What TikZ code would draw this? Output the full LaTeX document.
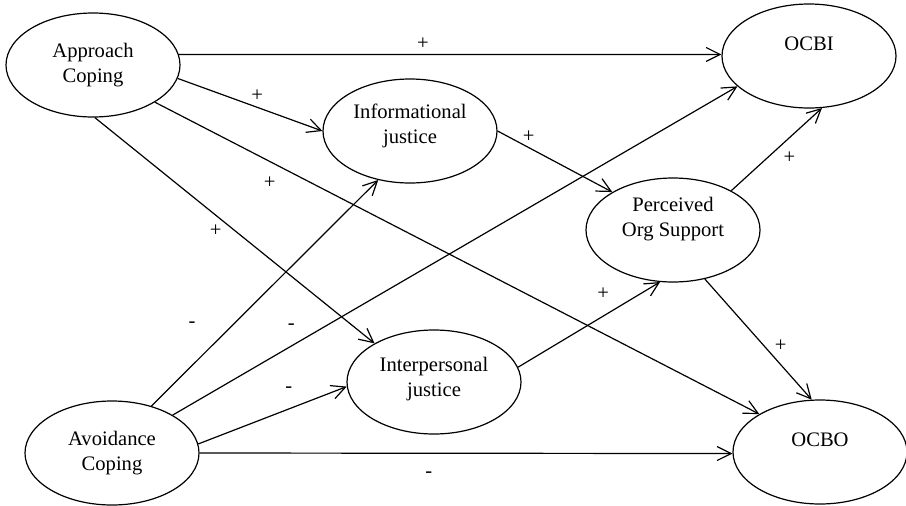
\documentclass[tikz,border=0pt]{standalone}
\usepackage{fontspec}
\setmainfont{Liberation Serif}
\usetikzlibrary{shapes.geometric, arrows.meta}

\begin{document}
\begin{tikzpicture}[
    x=0.5pt, y=-0.5pt,
    construct/.style={ellipse, draw=black, line width=0.6pt, minimum width=87pt, minimum height=52pt, inner sep=0pt, align=center, font=\fontsize{10.3}{12.5}\selectfont},
    link/.style={-{Straight Barb[length=7pt, width=7pt]}, line width=0.6pt},
    sign/.style={inner sep=0pt, font=\fontsize{10.3}{12.5}\selectfont}
]
    \useasboundingbox (0,0) rectangle (906,505);
    % constructs
    \node[construct] (appr) at (93,65) {Approach\\Coping};
    \node[construct] (avoid) at (112,453) {Avoidance\\Coping};
    \node[construct] (info) at (410,131) {Informational\\justice\\[-5.3pt]\mbox{}};
    \node[construct] (inter) at (434,382) {Interpersonal\\justice\\[-7.3pt]\mbox{}};
    \node[construct] (pos) at (673,230) {Perceived\\Org Support\\[0.7pt]\mbox{}};
    \node[construct] (ocbi) at (809,56) {OCBI\\\mbox{}};
    \node[construct] (ocbo) at (820,452) {OCBO\\\mbox{}};
    % paths from approach coping
    \draw[link] (appr.7) -- node[sign, pos=0.45, shift={(0,-11)}] {+} (ocbi.179);
    \draw[link] (appr.-9) -- node[sign, pos=0.55, shift={(0,-12)}] {+} (info.west);
    \draw[link] (appr.-31.5) -- node[sign, pos=0.19, shift={(0,21)}] {+} (ocbo.148);
    \draw[link] (appr.-88) -- node[sign, pos=0.5, shift={(-19,0)}] {+} (inter.147);
    % paths from avoidance coping
    \draw[link] (avoid.50) -- node[sign, pos=0.36, shift={(-41,0)}] {-} (info.237);
    \draw[link] (avoid.32) -- node[sign, pos=0.21, shift={(0,-19)}] {-} (ocbi.203);
    \draw[link] (avoid.6) -- node[sign, pos=0.61, shift={(0,-19)}] {-} (inter.183);
    \draw[link] (avoid.east) -- node[sign, pos=0.43, shift={(0,21)}] {-} (ocbo.181);
    % mediators
    \draw[link] (info.east) -- node[sign, pos=0.27, shift={(0,-11)}] {+} (pos.148);
    \draw[link] (inter.10) -- node[sign, pos=0.6, shift={(0,-22)}] {+} (pos.256);
    \draw[link] (pos.34) -- node[sign, pos=0.4, shift={(22,0)}] {+} (ocbi.-76);
    \draw[link] (pos.-57) -- node[sign, pos=0.55, shift={(17,0)}] {+} (ocbo.99);
\end{tikzpicture}
\end{document}
